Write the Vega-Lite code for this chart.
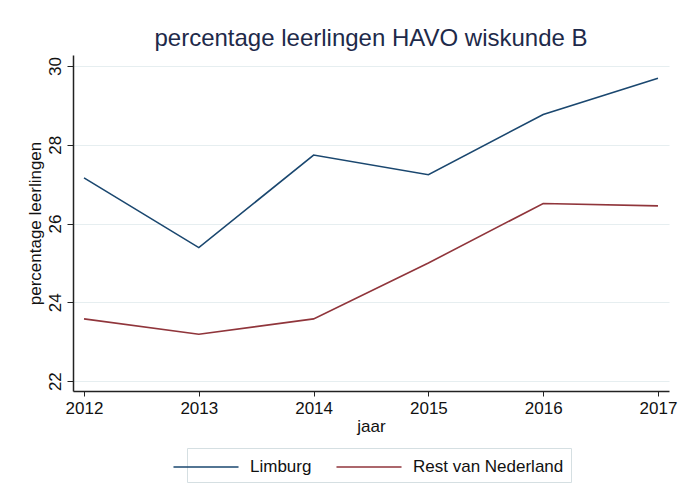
{
  "$schema": "https://vega.github.io/schema/vega-lite/v6.json",
  "width": 596,
  "height": 336,
  "autosize": "none",
  "padding": {"left": 73, "top": 55, "right": 14, "bottom": 103},
  "background": "white",
  "title": {
    "text": "percentage leerlingen HAVO wiskunde B",
    "fontSize": 24,
    "font": "Liberation Sans",
    "fontWeight": "normal",
    "color": "#1e2a4a",
    "anchor": "middle",
    "offset": 4
  },
  "data": {
    "values": [
      {"jaar": 2012, "regio": "Limburg", "pct": 27.16},
      {"jaar": 2013, "regio": "Limburg", "pct": 25.39},
      {"jaar": 2014, "regio": "Limburg", "pct": 27.74},
      {"jaar": 2015, "regio": "Limburg", "pct": 27.24},
      {"jaar": 2016, "regio": "Limburg", "pct": 28.77},
      {"jaar": 2017, "regio": "Limburg", "pct": 29.69},
      {"jaar": 2012, "regio": "Rest van Nederland", "pct": 23.58},
      {"jaar": 2013, "regio": "Rest van Nederland", "pct": 23.19},
      {"jaar": 2014, "regio": "Rest van Nederland", "pct": 23.58},
      {"jaar": 2015, "regio": "Rest van Nederland", "pct": 25.0},
      {"jaar": 2016, "regio": "Rest van Nederland", "pct": 26.51},
      {"jaar": 2017, "regio": "Rest van Nederland", "pct": 26.45}
    ]
  },
  "mark": {"type": "line", "strokeWidth": 1.6},
  "encoding": {
    "x": {
      "field": "jaar",
      "type": "quantitative",
      "scale": {"domain": [2011.904, 2017.096], "nice": false, "zero": false},
      "axis": {
        "title": "jaar",
        "values": [2012, 2013, 2014, 2015, 2016, 2017],
        "format": "d",
        "grid": false,
        "tickSize": 5,
        "labelPadding": 4,
        "titlePadding": 2,
        "labelFlush": false
      }
    },
    "y": {
      "field": "pct",
      "type": "quantitative",
      "scale": {"domain": [21.75, 30.28], "nice": false, "zero": false},
      "axis": {
        "title": "percentage leerlingen",
        "values": [22, 24, 26, 28, 30],
        "grid": true,
        "tickSize": 6,
        "labelAngle": -90,
        "labelAlign": "center",
        "labelBaseline": "bottom",
        "labelPadding": 3,
        "titlePadding": 2
      }
    },
    "color": {
      "field": "regio",
      "type": "nominal",
      "scale": {"domain": ["Limburg", "Rest van Nederland"], "range": ["#1a476f", "#90353b"]},
      "legend": {
        "title": null,
        "orient": "none",
        "legendX": 114,
        "legendY": 393,
        "direction": "horizontal",
        "symbolType": "M-3,0H3",
        "symbolSize": 470,
        "symbolStrokeWidth": 1.6,
        "labelOffset": 32,
        "columnPadding": 21,
        "padding": 7,
        "strokeColor": "#d5dfe2",
        "fillColor": "white",
        "labelFontSize": 17,
        "labelFont": "Liberation Sans",
        "labelColor": "#111111"
      }
    }
  },
  "config": {
    "view": {"stroke": null},
    "axis": {
      "labelFont": "Liberation Sans",
      "titleFont": "Liberation Sans",
      "labelFontSize": 17,
      "titleFontSize": 17,
      "titleFontWeight": "normal",
      "labelColor": "#111111",
      "titleColor": "#111111",
      "domainColor": "#222222",
      "domainWidth": 1.5,
      "tickColor": "#222222",
      "tickWidth": 1,
      "gridColor": "#e6eef0",
      "gridWidth": 1.2
    }
  }
}
